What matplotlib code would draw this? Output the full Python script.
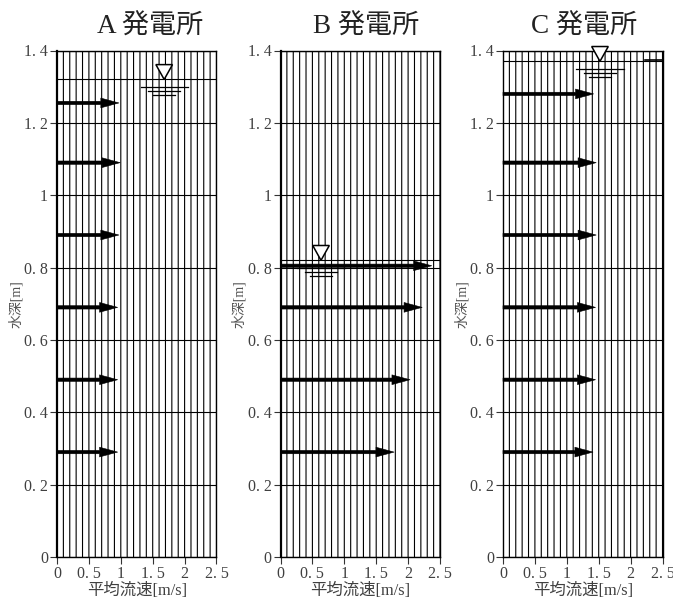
import matplotlib
matplotlib.use('Agg')
import matplotlib.pyplot as plt
import numpy as np

plt.rcParams['font.family'] = ['Liberation Serif', 'Noto Sans CJK JP']

W, H = 673, 601

titles = ['A 発電所', 'B 発電所', 'C 発電所']
depths_a = [1.255, 1.09, 0.89, 0.69, 0.49, 0.29]
speed_a = [0.97, 0.99, 0.97, 0.95, 0.95, 0.95]
depths_b = [0.805, 0.69, 0.49, 0.29]
speed_b = [2.37, 2.22, 2.03, 1.78]
depths_c = [1.28, 1.09, 0.89, 0.69, 0.49, 0.29]
speed_c = [1.42, 1.46, 1.46, 1.45, 1.45, 1.41]
water_level = [1.32, 0.82, 1.37]
water_mark_x = [1.68, 0.635, 1.52]

xticks = [0, 0.5, 1, 1.5, 2, 2.5]
xticklabels = ['0', '0. 5', '1', '1. 5', '2', '2. 5']
yticks = [0, 0.2, 0.4, 0.6, 0.8, 1, 1.2, 1.4]
yticklabels = ['0', '0. 2', '0. 4', '0. 6', '0. 8', '1', '1. 2', '1. 4']

lefts = [57, 280.5, 503]
title_x = [150, 366, 584]
depths = [depths_a, depths_b, depths_c]
speeds = [speed_a, speed_b, speed_c]
left_lw = [1.6, 1.6, 1.0]
txt_color = '#404040'

fig = plt.figure(figsize=(W / 100, H / 100), dpi=100)

for n in range(3):
    ax = fig.add_axes([lefts[n] / W, 1 - 557 / H, 159.5 / W, 506.5 / H])
    ax.set_xlim(0, 2.5)
    ax.set_ylim(0, 1.4)

    # grid every 0.1 in x, 0.2 in y
    ax.set_xticks(np.arange(0, 2.51, 0.1), minor=True)
    ax.set_xticks(xticks)
    ax.set_xticklabels(xticklabels, fontsize=11.5, color=txt_color)
    ax.set_yticks(yticks)
    ax.set_yticklabels(yticklabels, fontsize=11.5, color=txt_color)
    ax.grid(which='both', color='black', linewidth=0.8)
    for l in ax.get_xgridlines() + ax.xaxis.get_minorticklines():
        l.set_snap(False)
    for t in ax.xaxis.get_minor_ticks():
        t.gridline.set_snap(False)
    ax.set_axisbelow(True)
    ax.tick_params(axis='both', which='major', length=5, width=0.8, color='#333333', pad=1.5)
    ax.tick_params(axis='x', which='minor', length=0)
    for s in ax.spines.values():
        s.set_linewidth(1.0)
    ax.spines['left'].set_linewidth(left_lw[n])

    ax.set_xlabel('平均流速[m/s]', fontsize=11.8, color=txt_color, labelpad=0.5)
    ax.set_ylabel('水深[m]', fontsize=10, color='#555555', labelpad=1)

    fig.text(title_x[n] / W, 1 - 27 / H, titles[n], fontsize=19.5, color='#222222',
             ha='center', va='center')

    # water surface line
    ax.axhline(water_level[n], color='black', linewidth=0.8)

    # velocity arrows
    for d, v in zip(depths[n], speeds[n]):
        ax.annotate('', xy=(v, d), xytext=(0, d),
                    arrowprops=dict(facecolor='black', edgecolor='black', width=2.4,
                                    headwidth=7, headlength=13, shrink=0, linewidth=0.4))

    # water level mark
    xm = water_mark_x[n]
    yl = water_level[n]
    ax.fill([xm - 0.13, xm + 0.13, xm], [yl + 0.041, yl + 0.041, yl],
            facecolor='white', edgecolor='black', linewidth=1.1, clip_on=False, zorder=5)
    for off, half in zip([0.021, 0.032, 0.044], [0.37, 0.25, 0.17]):
        ax.plot([xm - half, xm + half], [yl - off, yl - off], color='black', linewidth=0.9, zorder=5)

    # short heavier piece of the surface line on plot C
    if n == 2:
        ax.plot([2.23, 2.5], [yl + 0.003, yl + 0.003], color='black', linewidth=1.2, zorder=4)

plt.savefig('out.png', dpi=100)
plt.close('all')
